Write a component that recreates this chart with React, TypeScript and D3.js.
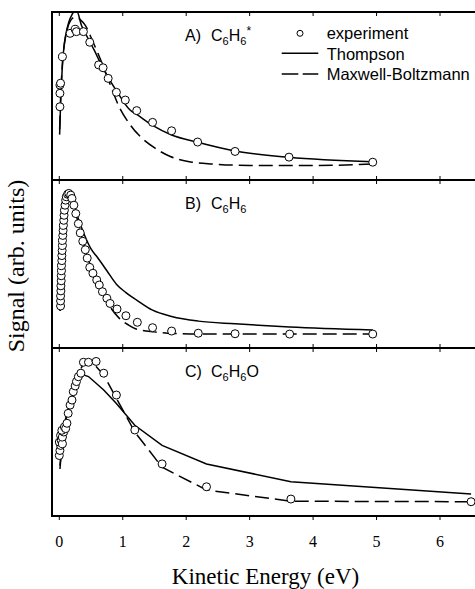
import React from "react";
import * as d3 from "d3";

const W = 475;
const H = 589;

const energyTicks = [0, 1, 2, 3, 4, 5, 6];
const panelTags = ["A)", "B)", "C)"];
const seriesNames = ["experiment", "Thompson", "Maxwell-Boltzmann"];

// [kinetic energy (eV), signal (arb.)], signal 100 = top of the panel
const expA = [
  [0.01, 43.6], [0.01, 51.6], [0.01, 56.5], [0.02, 57.6], [0.05, 73.4],
  [0.17, 87.3], [0.25, 89.7], [0.27, 88.3], [0.38, 88.3], [0.48, 82],
  [0.62, 68.5], [0.69, 66.8], [0.77, 60.5], [0.9, 52.2], [1.04, 47.6],
  [1.22, 41.3], [1.47, 34.3], [1.77, 29.3], [2.18, 22.6], [2.77, 17],
  [3.62, 13.6], [4.94, 10.6],
];
const thomA = [
  [0.005, 27], [0.02, 45], [0.04, 62], [0.06, 74], [0.1, 86], [0.15, 94],
  [0.2, 98.5], [0.27, 101], [0.35, 92], [0.45, 84.5], [0.54, 78], [0.69, 66.5],
  [0.91, 52.6], [1.12, 41.5], [1.22, 39], [1.47, 32.5], [1.77, 26.8],
  [2.18, 22.5], [2.77, 17.3], [3.62, 13.5], [4.94, 10.9],
];
const mbA = [
  [0.005, 30], [0.02, 48], [0.04, 64], [0.07, 78], [0.12, 89], [0.18, 95],
  [0.25, 97], [0.33, 95.5], [0.41, 92], [0.54, 81.4], [0.7, 67], [0.8, 57],
  [0.93, 44.6], [1.12, 32.7], [1.3, 25], [1.51, 18.9], [1.75, 14], [2.03, 11],
  [2.43, 9.5], [3.0, 8.7], [4.0, 8.6], [4.94, 9.6],
];

const expB = [
  [0.02, 25], [0.02, 28], [0.02, 31], [0.025, 34], [0.025, 37], [0.03, 40],
  [0.03, 43], [0.035, 46], [0.035, 49], [0.04, 52], [0.04, 55], [0.045, 58],
  [0.05, 61], [0.05, 64], [0.055, 67], [0.06, 70], [0.065, 73], [0.07, 76],
  [0.075, 79], [0.08, 82], [0.09, 85], [0.1, 88], [0.11, 90], [0.13, 91.5],
  [0.15, 92], [0.18, 91], [0.2, 89], [0.23, 85], [0.26, 80], [0.3, 74],
  [0.33, 68.5], [0.37, 63.5], [0.41, 58.5], [0.44, 53.5], [0.48, 48],
  [0.53, 44.5], [0.59, 40.5], [0.63, 37.5], [0.68, 33.5], [0.75, 29.6],
  [0.8, 26.5], [0.91, 23.2], [1.05, 19.2], [1.23, 15.3], [1.47, 12.1],
  [1.77, 10.1], [2.19, 8.8], [2.77, 8.5], [3.63, 8.3], [4.94, 8.3],
];
const thomB = [
  [0.015, 22], [0.03, 42], [0.05, 62], [0.08, 80], [0.12, 89], [0.16, 91],
  [0.22, 86], [0.3, 77], [0.4, 67], [0.5, 59], [0.6, 54], [0.75, 46],
  [0.9, 38], [1.05, 33], [1.22, 28.5], [1.47, 22.5], [1.77, 18.8], [2.19, 16],
  [2.77, 14.4], [3.63, 12.5], [4.94, 10.7],
];
const mbB = [
  [0.015, 22], [0.03, 42], [0.05, 62], [0.08, 80], [0.12, 89.5], [0.16, 91.5],
  [0.22, 86], [0.3, 74], [0.4, 60], [0.5, 48], [0.6, 39], [0.7, 31],
  [0.8, 24.5], [0.95, 17.5], [1.09, 13.7], [1.2, 11.5], [1.5, 9.6], [1.8, 8.7],
  [2.2, 8.4], [3.63, 8.3], [4.94, 8.3],
];

const expC = [
  [0.0, 36], [0.01, 39], [0.02, 42], [0.0, 44], [0.03, 45], [0.05, 43],
  [0.02, 48], [0.05, 47], [0.07, 50], [0.04, 51], [0.08, 53], [0.1, 52],
  [0.12, 55.2], [0.14, 61.1], [0.17, 66], [0.2, 69], [0.22, 74], [0.25, 77.4],
  [0.27, 80], [0.3, 82.9], [0.34, 85], [0.38, 91.5], [0.46, 91.5], [0.58, 92],
  [0.7, 85], [0.9, 72], [1.19, 51.2], [1.62, 31], [2.32, 17.4], [3.65, 10.1],
  [6.49, 8.5],
];
const thomC = [
  [0.01, 28], [0.05, 45], [0.1, 57], [0.2, 71], [0.3, 80], [0.38, 84],
  [0.46, 83], [0.58, 79], [0.7, 75], [0.9, 67], [1.19, 54], [1.62, 42],
  [2.32, 31], [3.65, 20.4], [6.49, 13.1],
];
const mbC = [
  [0.01, 30], [0.05, 45], [0.1, 58], [0.2, 72], [0.3, 84], [0.38, 91],
  [0.46, 92], [0.58, 89], [0.7, 84], [0.9, 70], [1.19, 50], [1.62, 29],
  [2.32, 15.5], [3.65, 8.8], [6.49, 8.5],
];

const panels = [
  { exp: expA, thom: thomA, mb: mbA, smooth: true, tail: "6*" },
  { exp: expB, thom: thomB, mb: mbB, smooth: true, tail: "6" },
  { exp: expC, thom: thomC, mb: mbC, smooth: false, tail: "6O" },
];

const sans = "'Liberation Sans', Arial, Helvetica, sans-serif";
const serif = "'Liberation Serif', 'Times New Roman', Times, serif";

function Species({ tail }: { tail: string }) {
  // C6H6, C6H6*, C6H6O
  return (
    <>
      <tspan x={211}>C</tspan>
      <tspan dy={4} fontSize={11}>6</tspan>
      <tspan dy={-4}>H</tspan>
      <tspan dy={4} fontSize={11}>6</tspan>
      {tail === "6*" && (
        <tspan dy={-10} fontSize={12}>*</tspan>
      )}
      {tail === "6O" && <tspan dy={-4}>O</tspan>}
    </>
  );
}

export default function App() {
  const left = 52;
  const right = 500;
  const panelH = 168;
  const tops = [12, 180, 348];
  const bottom = tops[2] + panelH;

  const x = d3.scaleLinear().domain([0, 6]).range([59.3, 440]);

  return (
    <svg
      width={W}
      height={H}
      style={{ position: "absolute", left: 0, top: 0, background: "#fff" }}
    >
      <defs>
        {tops.map((t, i) => (
          <clipPath id={"clip" + i} key={i}>
            <rect x={left} y={t} width={right - left} height={panelH} />
          </clipPath>
        ))}
      </defs>

      {panels.map((p, i) => {
        const t = tops[i];
        const y = d3.scaleLinear().domain([0, 100]).range([t + panelH, t]);
        const line = d3
          .line<number[]>()
          .x((d) => x(d[0]))
          .y((d) => y(d[1]))
          .curve(p.smooth ? d3.curveMonotoneX : d3.curveLinear);
        return (
          <g key={i}>
            <g clipPath={`url(#clip${i})`}>
              <path d={line(p.thom) || ""} fill="none" stroke="#000" strokeWidth={1.5} />
              <path
                d={line(p.mb) || ""}
                fill="none"
                stroke="#000"
                strokeWidth={1.5}
                strokeDasharray="14,6"
              />
            </g>
            {p.exp.map((d, j) => (
              <circle
                key={j}
                cx={x(d[0])}
                cy={y(d[1])}
                r={4}
                fill="#fff"
                stroke="#000"
                strokeWidth={1}
              />
            ))}
            <text x={185} y={t + 29} fontFamily={sans} fontSize={16} fill="#000">
              {panelTags[i]}
              <Species tail={p.tail} />
            </text>
          </g>
        );
      })}

      {/* frame */}
      <g stroke="#000" strokeWidth={2} fill="none">
        <line x1={left} x2={left} y1={tops[0] - 1} y2={bottom + 1} />
        {[...tops, bottom].map((t) => (
          <line key={t} x1={left - 1} x2={right} y1={t} y2={t} />
        ))}
      </g>

      {/* ticks */}
      <g stroke="#000" strokeWidth={1}>
        {energyTicks.map((e) => (
          <g key={e}>
            <line x1={x(e)} x2={x(e)} y1={tops[0]} y2={tops[0] + 4} />
            <line x1={x(e)} x2={x(e)} y1={tops[1] - 4} y2={tops[1] + 4} />
            <line x1={x(e)} x2={x(e)} y1={tops[2] - 4} y2={tops[2] + 4} />
            <line x1={x(e)} x2={x(e)} y1={bottom} y2={bottom + 4} />
          </g>
        ))}
      </g>

      {energyTicks.map((e) => (
        <text
          key={e}
          x={x(e)}
          y={547}
          textAnchor="middle"
          fontFamily={serif}
          fontSize={16}
          fill="#000"
        >
          {e}
        </text>
      ))}

      <text
        x={265.5}
        y={584}
        textAnchor="middle"
        fontFamily={serif}
        fontSize={23}
        fill="#000"
      >
        Kinetic Energy (eV)
      </text>
      <text
        transform="translate(24,266) rotate(-90)"
        textAnchor="middle"
        fontFamily={serif}
        fontSize={24}
        fill="#000"
      >
        Signal (arb. units)
      </text>

      {/* legend */}
      <g fontFamily={sans} fontSize={16.5} fill="#000">
        <circle cx={300} cy={33.3} r={3} fill="#fff" stroke="#000" strokeWidth={1} />
        <line x1={281.7} x2={318.3} y1={53.3} y2={53.3} stroke="#000" strokeWidth={1.5} />
        <line
          x1={281.7}
          x2={318.3}
          y1={74}
          y2={74}
          stroke="#000"
          strokeWidth={1.5}
          strokeDasharray="16.6,4.4"
        />
        {seriesNames.map((s, i) => (
          <text key={s} x={326.7} y={39 + i * 20.5}>
            {s}
          </text>
        ))}
      </g>
    </svg>
  );
}
